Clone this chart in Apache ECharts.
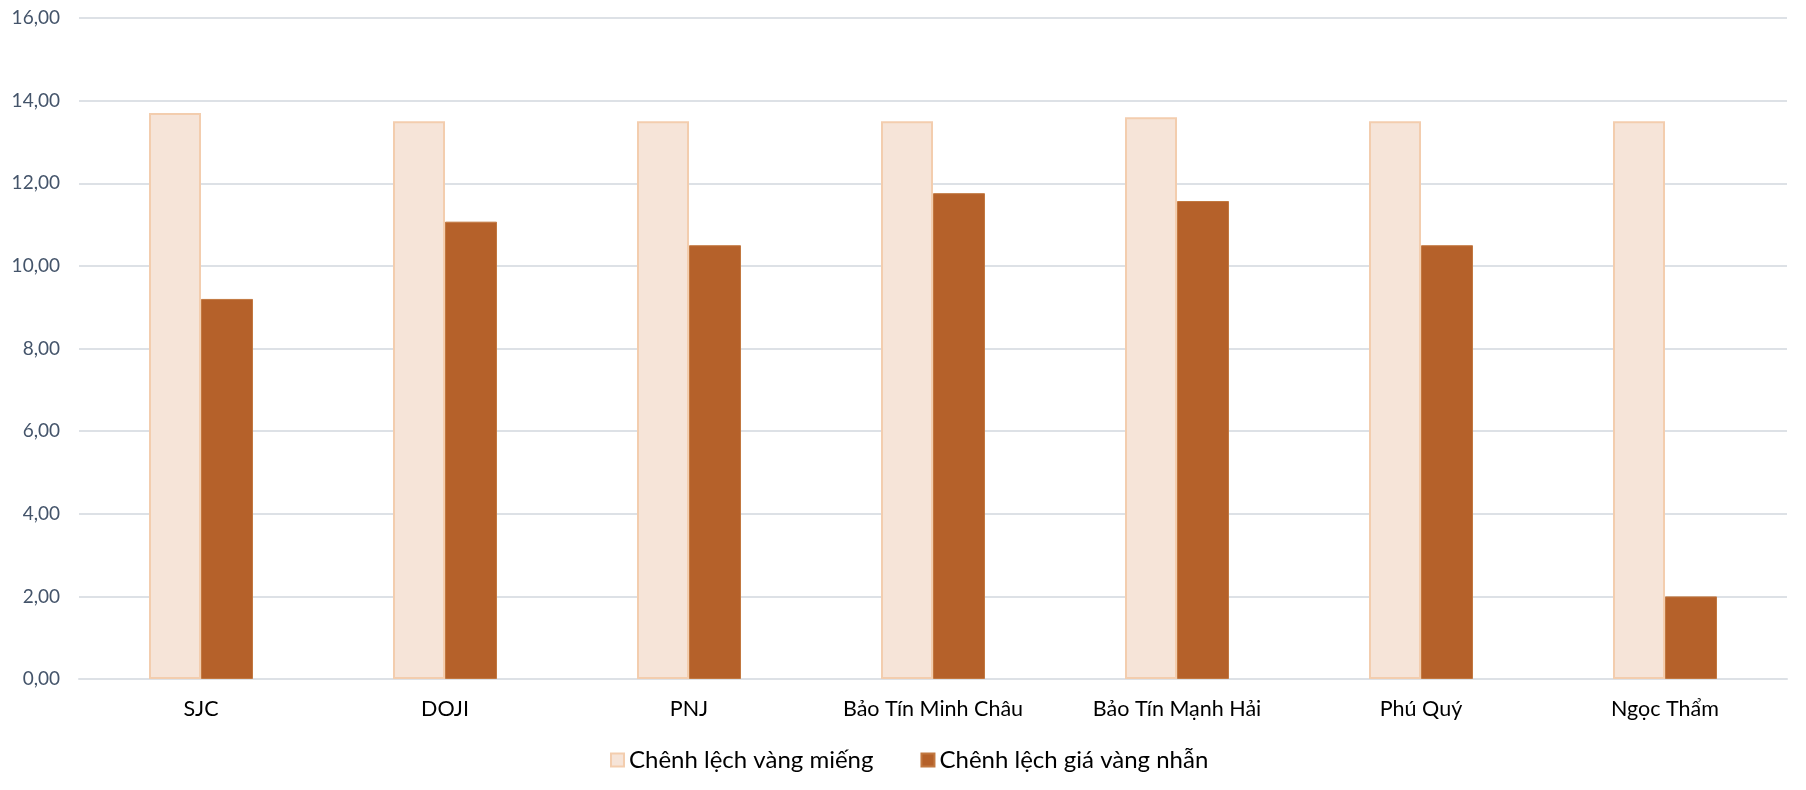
<!DOCTYPE html>
<html>
<head>
<meta charset="utf-8">
<script src="https://cdn.jsdelivr.net/npm/echarts@6/dist/echarts.min.js"></script>
<style>
html,body{margin:0;padding:0;background:#fff;}
#c{width:1806px;height:790px;}
</style>
</head>
<body>
<div id="c"></div>
<script>
const categories = ['SJC', 'DOJI', 'PNJ', 'Bảo Tín Minh Châu', 'Bảo Tín Mạnh Hải', 'Phú Quý', 'Ngọc Thẩm'];
const seriesNames = ['Chênh lệch vàng miếng', 'Chênh lệch giá vàng nhẫn'];
const vangMieng = [13.70, 13.50, 13.50, 13.50, 13.60, 13.50, 13.50];
const vangNhan = [9.20, 11.07, 10.50, 11.76, 11.57, 10.50, 2.00];
const yTicks = {min: 0, max: 16, interval: 2};

const chart = echarts.init(document.getElementById('c'), null, {renderer: 'canvas'});
chart.setOption({
  animation: false,
  backgroundColor: '#ffffff',
  textStyle: {fontFamily: 'Lato'},
  grid: {left: 79, right: 19, top: 18, bottom: 111, containLabel: false},
  legend: {
    data: seriesNames,
    top: 743,
    left: 605,
    itemWidth: 13,
    itemHeight: 13,
    itemGap: 47,
    icon: 'rect',
    textStyle: {fontFamily: 'Lato', fontSize: 24, color: '#000000'}
  },
  xAxis: {
    type: 'category',
    data: categories,
    axisTick: {show: false},
    axisLine: {show: true, lineStyle: {color: '#DDE1E6', width: 2}},
    axisLabel: {fontFamily: 'Lato', fontSize: 21.5, color: '#000000', margin: 19}
  },
  yAxis: {
    type: 'value',
    min: yTicks.min,
    max: yTicks.max,
    interval: yTicks.interval,
    axisLine: {show: false},
    axisTick: {show: false},
    splitLine: {lineStyle: {color: '#DDE1E6', width: 2}},
    axisLabel: {
      fontFamily: 'Lato', fontSize: 19, color: '#44546A', margin: 19,
      formatter: v => v.toFixed(2).replace('.', ',')
    }
  },
  series: [
    {
      name: seriesNames[0],
      type: 'bar',
      data: vangMieng,
      barWidth: 52,
      barGap: '0%',
      itemStyle: {color: '#F6E4D8', borderColor: '#F3CDAE', borderWidth: 2}
    },
    {
      name: seriesNames[1],
      type: 'bar',
      data: vangNhan,
      barWidth: 52,
      barGap: '0%',
      itemStyle: {color: '#B5612A', borderColor: '#C27840', borderWidth: 1}
    }
  ]
});
</script>
</body>
</html>
